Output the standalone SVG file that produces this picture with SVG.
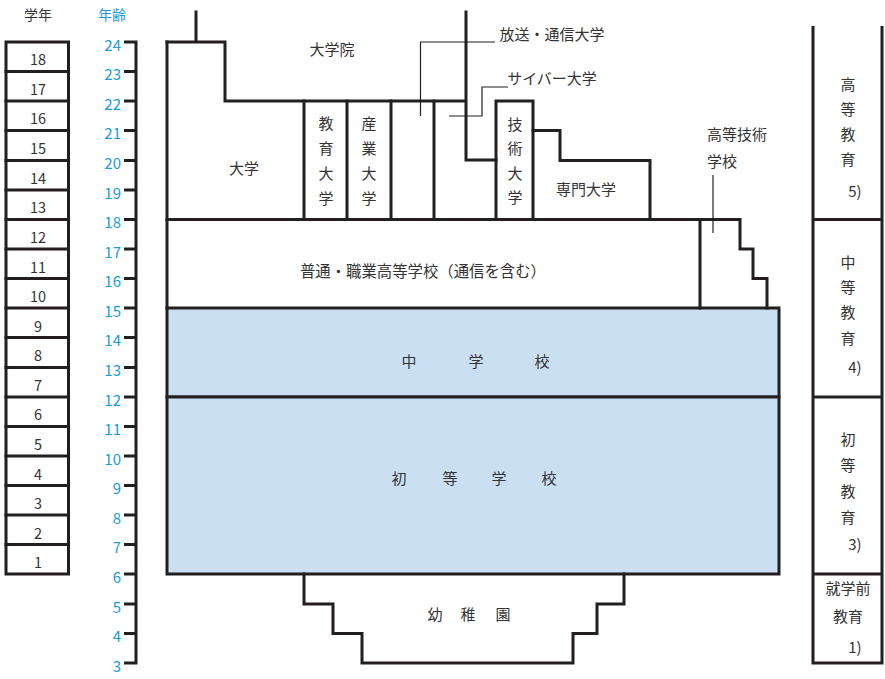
<svg xmlns="http://www.w3.org/2000/svg" width="885" height="679" viewBox="0 0 885 679">
<style>
text{font-family:"Noto Sans CJK JP","Noto Sans",sans-serif;fill:#333;dominant-baseline:central;text-anchor:middle}
.t{font-size:15px}
.g{font-size:14.5px}
.age{font-size:15px;fill:#1b9ad8;text-anchor:end}
.hd{font-size:14px}
.ln{fill:none;stroke:#231f20;stroke-width:3;stroke-linejoin:miter;stroke-linecap:square}
.ld{fill:none;stroke:#231f20;stroke-width:1.2}
.blue{fill:#cbdff2;stroke:#231f20;stroke-width:3}
</style>
<rect width="885" height="679" fill="#fff"/>
<!-- headers -->
<text class="hd" x="38" y="14">学年</text>
<text class="hd" x="112" y="14" style="fill:#1b9ad8">年齢</text>
<!-- grade column -->
<g id="grades">
<rect class="ln" x="6" y="42" width="62.5" height="532"/>
<path class="ln" d="M6,71.5H68.5M6,101H68.5M6,130.5H68.5M6,160.5H68.5M6,190H68.5M6,219.5H68.5M6,249H68.5M6,278.5H68.5M6,308H68.5M6,337.5H68.5M6,367.5H68.5M6,397H68.5M6,426.5H68.5M6,456H68.5M6,485.5H68.5M6,515H68.5M6,544.5H68.5"/>
<g class="g">
<text x="38" y="58.5">18</text>
<text x="38" y="88">17</text>
<text x="38" y="117.5">16</text>
<text x="38" y="147.5">15</text>
<text x="38" y="177">14</text>
<text x="38" y="206.5">13</text>
<text x="38" y="236">12</text>
<text x="38" y="266">11</text>
<text x="38" y="295.5">10</text>
<text x="38" y="325">9</text>
<text x="38" y="354.5">8</text>
<text x="38" y="384">7</text>
<text x="38" y="413.5">6</text>
<text x="38" y="443">5</text>
<text x="38" y="473">4</text>
<text x="38" y="502.5">3</text>
<text x="38" y="532">2</text>
<text x="38" y="561.5">1</text>
</g>
</g>
<!-- age axis -->
<g id="ages">
<path class="ln" style="stroke-linecap:butt" d="M136,40.5V664.5M124,42H136M124,71.5H136M124,101H136M124,130.5H136M124,160.5H136M124,190H136M124,219.5H136M124,249H136M124,278.5H136M124,308H136M124,337.5H136M124,367.5H136M124,397H136M124,426.5H136M124,456H136M124,485.5H136M124,515H136M124,544.5H136M124,574H136M124,604H136M124,633.5H136M124,663H136"/>
<text class="age" x="121" y="44">24</text>
<text class="age" x="121" y="73.5">23</text>
<text class="age" x="121" y="103">22</text>
<text class="age" x="121" y="132.5">21</text>
<text class="age" x="121" y="162.5">20</text>
<text class="age" x="121" y="192">19</text>
<text class="age" x="121" y="221.5">18</text>
<text class="age" x="121" y="251">17</text>
<text class="age" x="121" y="280.5">16</text>
<text class="age" x="121" y="310">15</text>
<text class="age" x="121" y="339.5">14</text>
<text class="age" x="121" y="369.5">13</text>
<text class="age" x="121" y="399">12</text>
<text class="age" x="121" y="428.5">11</text>
<text class="age" x="121" y="458">10</text>
<text class="age" x="121" y="487.5">9</text>
<text class="age" x="121" y="517">8</text>
<text class="age" x="121" y="546.5">7</text>
<text class="age" x="121" y="576">6</text>
<text class="age" x="121" y="606">5</text>
<text class="age" x="121" y="635.5">4</text>
<text class="age" x="121" y="665">3</text>
</g>
<!-- blue schools -->
<g id="chugakko">
<rect class="blue" x="167" y="308" width="612" height="89"/>
<text class="t" x="409" y="360">中</text>
<text class="t" x="476" y="360">学</text>
<text class="t" x="542" y="360">校</text>
</g>
<g id="shotogakko">
<rect class="blue" x="167" y="397" width="612" height="177"/>
<text class="t" x="399" y="477">初</text>
<text class="t" x="450" y="477">等</text>
<text class="t" x="499" y="477">学</text>
<text class="t" x="549" y="477">校</text>
</g>
<!-- kindergarten -->
<g id="yochien">
<path class="ln" d="M304,574V604H333V633.5H362V663H573V633.5H597V604H624V574"/>
<text class="t" x="435" y="613">幼</text>
<text class="t" x="468" y="613">稚</text>
<text class="t" x="503" y="613">園</text>
</g>
<!-- high school -->
<g id="kotogakko">
<path class="ln" d="M167,219.5V308M167,219.5H740V249H753V278.5H767V308M700,219.5V308"/>
<text x="423" y="270" style="font-size:15.4px" textLength="246" lengthAdjust="spacingAndGlyphs">普通・職業高等学校（通信を含む）</text>
</g>
<g id="kotogijutsu">
<text class="t" x="737" y="133">高等技術</text>
<text class="t" x="722" y="160">学校</text>
</g>
<!-- universities -->
<g id="daigakuin">
<path class="ln" d="M196,12V42M167,42H225V101H466M466,12V160H496"/>
<text class="t" x="332" y="48">大学院</text>
</g>
<g id="daigaku">
<path class="ln" d="M167,42V219.5"/>
<text class="t" x="244" y="167">大学</text>
</g>
<g id="kyoiku">
<path class="ln" d="M304,101V219.5M347,101V219.5"/>
<text class="t" x="326" y="122">教</text>
<text class="t" x="326" y="147">育</text>
<text class="t" x="326" y="172">大</text>
<text class="t" x="326" y="197">学</text>
</g>
<g id="sangyo">
<path class="ln" d="M391,101V219.5"/>
<text class="t" x="369" y="122">産</text>
<text class="t" x="369" y="147">業</text>
<text class="t" x="369" y="172">大</text>
<text class="t" x="369" y="197">学</text>
</g>
<g id="hoso">
<path class="ln" d="M434,101V219.5"/>
</g>
<g id="gijutsu">
<path class="ln" d="M496,219.5V101H533V219.5"/>
<text class="t" x="515" y="123">技</text>
<text class="t" x="515" y="147">術</text>
<text class="t" x="515" y="172">大</text>
<text class="t" x="515" y="196">学</text>
</g>
<g id="senmon">
<path class="ln" d="M533,130.5H560V160.5H650V219.5"/>
<text class="t" x="586" y="188">専門大学</text>
</g>
<!-- leader labels -->
<g id="connectors">
<path class="ld" d="M420.5,116V42H495"/>
<path class="ld" d="M449,116H482V87H508"/>
<path class="ld" d="M713,175V233"/>
</g>
<g id="label-hoso"><text class="t" x="552" y="33">放送・通信大学</text></g>
<g id="label-cyber"><text class="t" x="552" y="77">サイバー大学</text></g>
<!-- right column -->
<g id="stages">
<path class="ln" style="stroke-linecap:butt" d="M813,26V663H882V26M813,219.5H882M813,397H882M813,574H882"/>
<text class="t" x="848" y="83">高</text>
<text class="t" x="848" y="108">等</text>
<text class="t" x="848" y="133">教</text>
<text class="t" x="848" y="158">育</text>
<text class="t" x="855" y="190">5)</text>
<text class="t" x="848" y="261">中</text>
<text class="t" x="848" y="286">等</text>
<text class="t" x="848" y="311">教</text>
<text class="t" x="848" y="337">育</text>
<text class="t" x="855" y="366">4)</text>
<text class="t" x="848" y="438">初</text>
<text class="t" x="848" y="464">等</text>
<text class="t" x="848" y="490">教</text>
<text class="t" x="848" y="516">育</text>
<text class="t" x="855" y="543">3)</text>
<text class="t" x="848" y="587">就学前</text>
<text class="t" x="848" y="615">教育</text>
<text class="t" x="855" y="646">1)</text>
</g>
</svg>
